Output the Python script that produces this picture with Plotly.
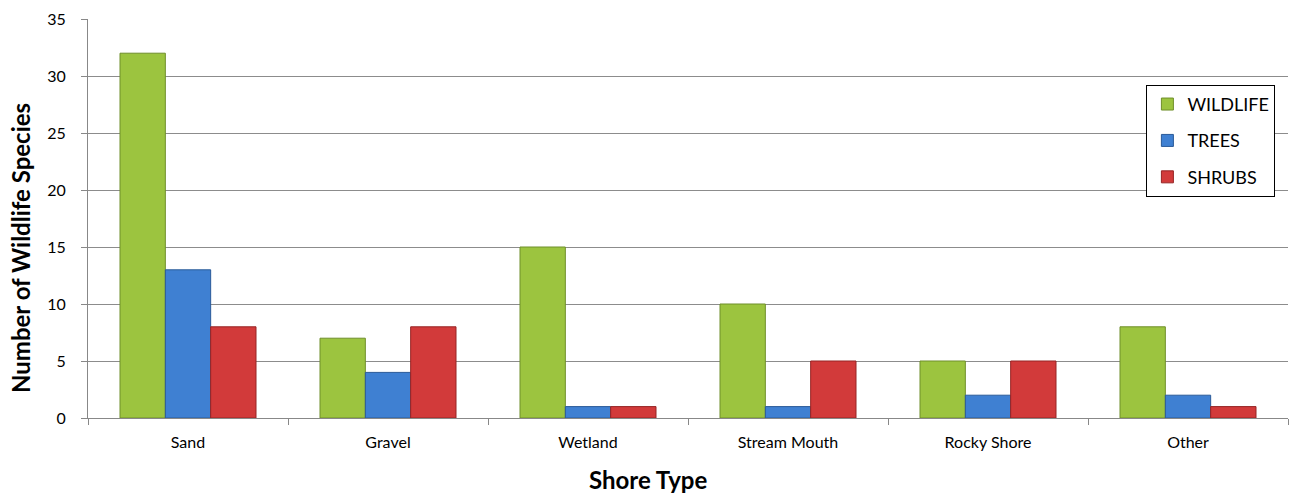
import plotly.graph_objects as go

categories = ["Sand", "Gravel", "Wetland", "Stream Mouth", "Rocky Shore", "Other"]
wildlife = [32, 7, 15, 10, 5, 8]
trees = [13, 4, 1, 1, 2, 2]
shrubs = [8, 8, 1, 5, 5, 1]

series = [
    ("WILDLIFE", wildlife, "#9cc43f", "#6f8f2a"),
    ("TREES", trees, "#3f80d2", "#2a5a98"),
    ("SHRUBS", shrubs, "#d23a3a", "#962424"),
]

fig = go.Figure()
for name, vals, col, edge in series:
    fig.add_trace(go.Bar(
        x=categories, y=vals, name=name, legendgroup=name,
        marker=dict(color=col, line=dict(color=edge, width=1)),
    ))

fig.update_layout(
    width=1289, height=493,
    margin=dict(l=88, r=1, t=19, b=75),
    paper_bgcolor="white", plot_bgcolor="white",
    barmode="group", bargap=0.32, bargroupgap=0,
    font=dict(family="Lato, Open Sans, sans-serif", size=16, color="#000"),
    legend=dict(
        x=0.882, y=0.835, xanchor="left", yanchor="top",
        bgcolor="white", bordercolor="#000", borderwidth=1,
        font=dict(size=18), traceorder="grouped", tracegroupgap=10,
        itemwidth=30,
    ),
    xaxis=dict(
        showline=True, linecolor="#888", ticks="outside", tickcolor="#888",
        ticklen=6, tickson="boundaries", showgrid=False, ticklabelstandoff=10,
    ),
    yaxis=dict(
        range=[0, 35], dtick=5, showgrid=True, gridcolor="#8c8c8c", gridwidth=1,
        showline=True, linecolor="#888", ticks="outside", tickcolor="#888", ticklen=6,
        zeroline=False, ticklabelstandoff=12,
    ),
    annotations=[
        dict(text="<b>Shore Type</b>", xref="paper", yref="paper",
             x=0.4667, y=-0.155, xanchor="center", yanchor="middle",
             showarrow=False, font=dict(size=24)),
        dict(text="<b>Number of Wildlife Species</b>", xref="paper", yref="paper",
             x=-0.0567, y=0.426, xanchor="center", yanchor="middle", textangle=-90,
             showarrow=False, font=dict(size=24)),
    ],
)

fig.write_html("out.html")
